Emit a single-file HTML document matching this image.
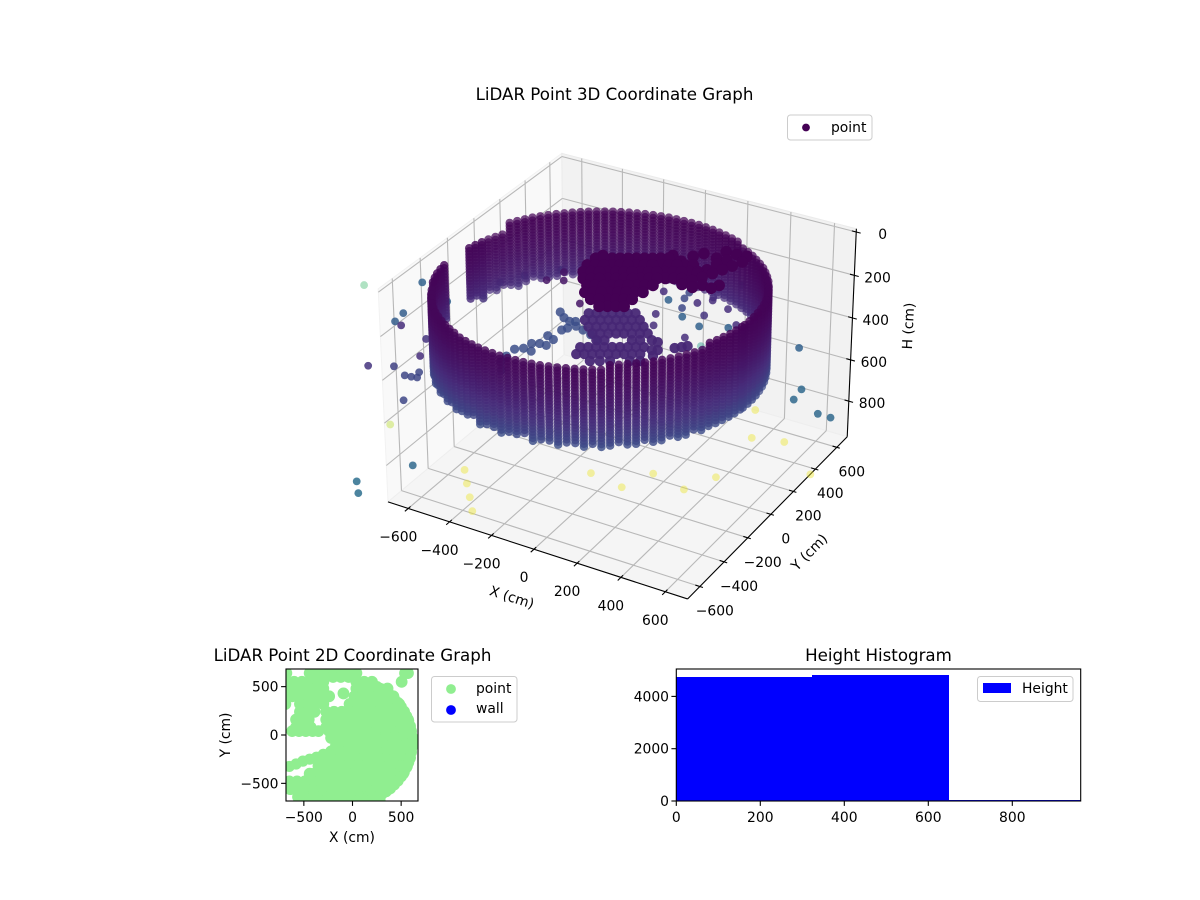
<!DOCTYPE html>
<html lang="en">
<head>
<meta charset="utf-8">
<title>LiDAR Point Graphs</title>
<style>
html,body{margin:0;padding:0;background:#fff;}
svg{display:block;}
text{font-family:"DejaVu Sans","Liberation Sans",sans-serif;font-size:13.89px;fill:#000;}
.title{font-size:16.67px;}
</style>
</head>
<body>
<svg id="figure" xmlns="http://www.w3.org/2000/svg" width="1200" height="900" viewBox="0 0 1200 900">
  <rect x="0" y="0" width="1200" height="900" fill="#ffffff"/>
  <defs>
    <clipPath id="clip2d"><rect x="286" y="669" width="132" height="132"/></clipPath>
  </defs>
  <g id="panel3d"></g>
  <g id="panel2d"></g>
  <g id="panelHist"></g>
</svg>
<script>
// ---------- 3D chart data ----------
const xTicks3d = [-600, -400, -200, 0, 200, 400, 600];
const yTicks3d = [-600, -400, -200, 0, 200, 400, 600];
const hTicks3d = [0, 200, 400, 600, 800];

// Wall columns, polar around the wall centre: bearing (deg), range (cm), top and bottom height (cm)
const wallCentreX = -93;
const wallCentreY = -15;
const wallBearing = [0,3.2,6.4,9.6,12.8,16,19.2,22.4,25.6,28.8,32,35.2,38.4,41.6,44.8,48,51.2,54.4,57.6,60.8,64,67.2,70.4,73.6,76.8,80,83.2,86.4,89.6,92.8,96,99.2,102.4,105.6,108.8,112,115.2,118.4,121.6,124.8,128,131.2,134.4,137.6,140.8,144,147.2,150.4,153.6,156.8,160,163.2,166.4,169.6,172.8,176,192,195.2,198.4,201.6,204.8,208,211.2,214.4,217.6,220.8,224,227.2,230.4,233.6,236.8,240,243.2,246.4,249.6,252.8,256,259.2,262.4,265.6,268.8,272,275.2,278.4,281.6,284.8,288,291.2,294.4,297.6,300.8,304,307.2,310.4,313.6,316.8,320,323.2,326.4,329.6,332.8,336,339.2,342.4,345.6,348.8,352,355.2,358.4];
const wallRange = [660,663,666,669,672,675,677,678,679,680,680,679,678,677,674,671,669,666,662,659,655,651,647,644,640,637,633,629,626,624,621,619,616,614,613,612,612,611,611,612,612,613,614,616,619,621,624,626,629,633,637,640,644,647,651,655,671,674,677,678,679,680,680,679,678,677,675,672,669,666,663,660,656,652,648,645,641,637,634,630,627,625,622,620,617,615,613,612,612,611,611,612,612,612,614,616,619,620,623,626,628,632,636,639,643,646,651,654,658];
const wallTop = [125,125,125,125,125,125,125,125,125,125,120,120,120,120,120,120,120,120,120,105,105,105,105,105,105,105,105,105,105,105,105,105,105,105,105,105,105,105,105,105,105,105,105,105,105,105,105,105,105,105,150,150,150,150,150,150,145,145,145,145,145,160,160,160,160,160,160,160,160,160,160,160,165,165,165,165,165,165,165,165,165,165,165,165,165,165,165,165,165,165,165,145,145,145,145,145,145,145,145,145,145,145,145,125,125,125,125,125,125];
const wallBottom = [510,510,505,510,510,505,510,510,505,510,400,400,400,400,400,400,400,400,400,400,400,400,400,400,400,400,400,400,400,400,400,400,400,400,400,395,400,405,400,390,400,410,395,400,410,400,395,410,420,405,400,415,400,420,400,400,405,400,400,410,400,510,505,510,500,510,505,515,505,510,500,515,505,510,500,515,505,510,515,505,510,500,515,510,505,515,510,505,515,510,515,510,505,515,510,505,515,510,505,510,515,505,510,505,510,505,510,505,510];
const wallStep = 14;

// Dark ceiling mass at the centre of the room
const ceilingH = 10;
const ceilingX = [-114,-85,-57,-29,-1,27,56,84,112,140,-101,-114,-86,-57,-29,-1,27,55,84,112,140,168,197,225,253,-99,-71,-43,-14,14,42,70,99,127,155,183,212,240,268,296,-70,-42,-14,15,43,71,99,128,156,184,212,241,269,-28,0,29,57,85,113,141,170,198,-6,22,50,79,107,135,163,192,43,71,100,128,156,184,100,128,157,185,312,334,354,373,392,411,404,361,350,330,320,301,293,340,367,408,424,143,195,217,243,306,313];
const ceilingY = [-12,4,21,37,53,70,86,102,119,135,23,-78,-62,-46,-29,-13,3,20,36,52,69,85,101,118,134,-135,-119,-103,-86,-70,-54,-38,-21,-5,11,28,44,60,77,93,-184,-168,-152,-135,-119,-103,-87,-70,-54,-38,-21,-5,11,-226,-210,-194,-177,-161,-145,-128,-112,-96,-279,-263,-247,-230,-214,-198,-181,-165,-317,-301,-284,-268,-252,-236,-350,-333,-317,-301,17,59,108,156,204,254,306,300,237,188,125,77,-32,-32,2,-2,35,164,138,198,241,231,300];

// Mid-height cluster inside the room
const clusterH = 450;
const clusterShade = 0.11;
const clusterX = [-312,-284,-255,-227,-199,-171,-143,-297,-269,-241,-212,-184,-156,-128,-99,-255,-227,-198,-170,-142,-114,-85,-57,-212,-184,-155,-127,-99,-71,-42,-14,-169,-140,-42,-13,-197,-169,-141,-112,-84,-56,-28,0,29,-182,-154,-126,-98,-69,-41,-13,15,44,-105,-70,-34,36,72,29,58,69,90,97,142,163,180];
const clusterY = [265,281,297,314,330,346,363,208,224,240,257,273,289,305,322,166,182,198,215,231,247,264,280,125,141,158,174,190,206,223,239,84,100,157,174,1,18,34,50,67,83,99,116,132,-56,-39,-23,-7,10,26,42,58,75,-77,-57,-36,4,25,198,196,127,139,87,188,209,229];

// Bluish arcs reaching toward the wall
const arcH = 520;
const arcX = [-487,-448,-411,-366,-324,-276,-226,-486,-487,-459,-451,-422,-427,-390,-402,-389,-389,-419,-390,-480,-443];
const arcY = [323,289,273,251,237,219,191,-110,-44,-19,32,49,122,106,193,219,285,-24,49,-163,-217];

// Isolated returns
const strayX = [-1662,-1204,-1107,-1097,-880,-838,-792,-735,-706,-698,-682,-673,-756,-1030,-1016,-446,-420,-383,-740,-770,-827,-260,-224,-565,-511,-423,-629,-977,-539,-474,-407,-342,-73,92,152,321,390,372,506,717,278,632,642,778,836,480,13,-87,-198,84,119,129,220,-74,137,-20,20,29,142,313,181,-6,-40,-72,-79];
const strayY = [554,348,54,-24,-292,-597,-482,-490,-486,-440,-479,-465,-296,230,257,150,246,183,749,494,388,132,46,-1093,-1161,-910,-658,-264,-368,-452,-535,-618,-128,-159,-3,-46,102,452,491,317,662,380,291,239,238,655,1019,504,746,486,561,537,503,645,449,317,228,607,658,401,203,690,580,659,714];
const strayH = [817,583,568,568,397,424,471,493,493,493,493,397,424,583,583,275,275,275,583,500,500,275,275,619,619,600,493,917,950,950,950,950,950,950,950,950,950,950,950,950,950,600,600,600,600,583,583,397,583,397,397,397,397,583,424,397,397,583,583,397,397,730,500,500,500];

// ---------- 2D chart data ----------
const ticks2d = [-500, 0, 500];
const scanY = [640,600,550,480,430,400,320,240,160,80,40,-30,-110,-170,-240,-320,-400,-480,-560,-640,-680];
const scanX = [
 [-680,-440,-360,-280,-200,-120,-40,40,540,570],
 [-280,-200,-120,-40],
 [-680,-600,-520,-440,-360,-300,40,120,200,505],
 [-680,-600,-520,-440,-360,-300,40,120,200,280,360],
 [-93],
 [-680,-620,-560,-480,-400,-320,-240,20,100,180,260,340,420],
 [-690,-540,-460,-380,-300,-30,50,130,210,290,370,450,480],
 [-540,-460,-390,-270,-190,-110,-30,50,130,210,290,370,450,530],
 [-580,-530,-450,-270,-190,-110,-30,50,130,210,290,370,450,530,570],
 [-580,-500,-430,-270,-190,-110,-30,50,130,210,290,370,450,530,590],
 [-620,-550,-480,-410,-350,-240,-160,-80,0,80,160,240,320,400,480,560,600],
 [-220,-140,-60,20,100,180,260,340,420,500,580,610],
 [-170,-90,-10,70,150,230,310,390,470,550,610],
 [-220,-140,-60,20,100,180,260,340,420,500,580,600],
 [-290,-210,-130,-50,30,110,190,270,350,430,510,590],
 [-350,-270,-190,-110,-30,50,130,210,290,370,450,530,560],
 [-440,-390,-310,-230,-150,-70,10,90,170,250,330,410,490,520],
 [-650,-570,-490,-410,-330,-250,-170,-90,-10,70,150,230,310,390,450],
 [-640,-560,-480,-400,-320,-240,-160,-80,0,80,160,240,320,370],
 [-560,-480,-400,-320,-240,-160,-80,0,80,160,240,270],
 [-500,-420,-340,-260,-180,-100,-20,60,140,220,280]
];
const bandX = [-650,-580,-510,-440,-370,-300];
const bandY = [-325,-300,-270,-250,-230,-200];
const rimX = [200,251,300,346,390,430,468,501,531,556,577,594,605,613,615,613,605,594,577,556,531,501,468,430,390,346,300,251,200];
const rimY = [522,501,476,446,413,375,335,291,245,196,145,93,39,-15,-70,-125,-179,-233,-285,-336,-385,-431,-475,-515,-553,-586,-616,-641,-662];

// ---------- Histogram data ----------
const histEdges = [0, 323, 649, 963];
const histCounts = [4750, 4827, 45];
const histXTicks = [0, 200, 400, 600, 800];
const histYTicks = [0, 2000, 4000];

// ---------- helpers ----------
const NS = 'http://www.w3.org/2000/svg';
function mk(parent, tag, attrs, txt) {
  const el = document.createElementNS(NS, tag);
  for (const k in attrs) el.setAttribute(k, attrs[k]);
  if (txt !== undefined) el.textContent = txt;
  parent.appendChild(el);
  return el;
}
function fmt(v) { return v < 0 ? '\u2212' + Math.abs(v) : String(v); }
const viridisStops = [[68,1,84],[71,44,122],[59,81,139],[44,113,142],[33,144,141],[39,173,129],[92,200,99],[170,220,50],[253,231,37]];
function viridis(v) {
  const t = Math.max(0, Math.min(1, v)) * (viridisStops.length - 1);
  const i = Math.min(viridisStops.length - 2, Math.floor(t));
  const f = t - i;
  const a = viridisStops[i], b = viridisStops[i + 1];
  return 'rgb(' + [0,1,2].map(function (c) { return Math.round(a[c] + (b[c] - a[c]) * f); }).join(',') + ')';
}

// ---------- 3D projection (elev 30, azim -60) ----------
const boxMin = -699, boxMax = 699, hTop = -15, hBot = 975;
const unit = (boxMax - boxMin) / 1.1429;
const scale3d = 3000, originX = 621.7, originY = 365.6, zHalf = 0.405;
function project(x, y, h) {
  const qx = x / unit, qy = y / unit;
  const qz = zHalf - (h - hTop) / (hBot - hTop) * 2 * zHalf;
  const u = 0.866 * qx + 0.5 * qy;
  const v = -0.25 * qx + 0.433 * qy + 0.866 * qz;
  const n = 0.433 * qx - 0.75 * qy + 0.5 * qz;
  const den = 10 - n;
  return { x: originX + scale3d * u / den, y: originY - scale3d * v / den, d: n };
}
function colorValue(h) { return Math.pow(Math.max(h, 0) / 960, 2.3); }

const p3 = document.getElementById('panel3d');

function polyPts(list) {
  return list.map(function (c) { const p = project(c[0], c[1], c[2]); return p.x.toFixed(2) + ',' + p.y.toFixed(2); }).join(' ');
}
const leftPane = mk(p3, 'polygon', { points: polyPts([[boxMin,boxMin,hBot],[boxMin,boxMax,hBot],[boxMin,boxMax,hTop],[boxMin,boxMin,hTop]]), fill: '#f9f9f9', stroke: '#f2f2f2', 'stroke-width': 1 });


const backPane = mk(p3, 'polygon', { points: polyPts([[boxMin,boxMax,hBot],[boxMax,boxMax,hBot],[boxMax,boxMax,hTop],[boxMin,boxMax,hTop]]), fill: '#f2f2f2', stroke: '#ebebeb', 'stroke-width': 1 });


const floorPane = mk(p3, 'polygon', { points: polyPts([[boxMin,boxMin,hBot],[boxMax,boxMin,hBot],[boxMax,boxMax,hBot],[boxMin,boxMax,hBot]]), fill: '#f5f5f5', stroke: '#eeeeee', 'stroke-width': 1 });



function line3d(a, b, stroke, width) {
  const pa = project(a[0], a[1], a[2]), pb = project(b[0], b[1], b[2]);
  return mk(p3, 'line', { x1: pa.x.toFixed(2), y1: pa.y.toFixed(2), x2: pb.x.toFixed(2), y2: pb.y.toFixed(2), stroke: stroke, 'stroke-width': width });
}
const gridColor = '#b8b8b8';
xTicks3d.forEach(function (t) {
  const g1 = line3d([t, boxMin, hBot], [t, boxMax, hBot], gridColor, 1.1);
  
  
  const g2 = line3d([t, boxMax, hBot], [t, boxMax, hTop], gridColor, 1.1);
  
  
});
yTicks3d.forEach(function (t) {
  const g1 = line3d([boxMin, t, hBot], [boxMax, t, hBot], gridColor, 1.1);
  
  
  const g2 = line3d([boxMin, t, hBot], [boxMin, t, hTop], gridColor, 1.1);
  
  
});
hTicks3d.forEach(function (t) {
  const g1 = line3d([boxMin, boxMin, t], [boxMin, boxMax, t], gridColor, 1.1);
  
  
  const g2 = line3d([boxMin, boxMax, t], [boxMax, boxMax, t], gridColor, 1.1);
  
  
});

const axisX = line3d([boxMin, boxMin, hBot], [boxMax, boxMin, hBot], '#000', 1.1);


const axisY = line3d([boxMax, boxMin, hBot], [boxMax, boxMax, hBot], '#000', 1.1);


const axisH = line3d([boxMax, boxMax, hBot], [boxMax, boxMax, hTop], '#000', 1.1);



xTicks3d.forEach(function (t) {
  const tk = line3d([t, boxMin + 17, hBot], [t, boxMin - 25, hBot], '#000', 1.1);
  
  
  const p = project(t, boxMin, hBot);
  const lb = mk(p3, 'text', { x: (p.x - 10).toFixed(1), y: (p.y + 33).toFixed(1), 'text-anchor': 'middle' }, fmt(t));
  
  
});
yTicks3d.forEach(function (t) {
  const tk = line3d([boxMax - 20, t, hBot], [boxMax + 14, t, hBot], '#000', 1.1);
  
  
  const p = project(boxMax, t, hBot);
  const lb = mk(p3, 'text', { x: (p.x + 15).toFixed(1), y: (p.y + 29).toFixed(1), 'text-anchor': 'middle' }, fmt(t));
  
  
});
hTicks3d.forEach(function (t) {
  const tk = line3d([boxMax - 20, boxMax, t], [boxMax + 20, boxMax, t], '#000', 1.1);
  
  
  const p = project(boxMax, boxMax, t);
  const lb = mk(p3, 'text', { x: (p.x + (t === 0 ? 22 : 10)).toFixed(1), y: (p.y + 7).toFixed(1), 'text-anchor': 'start' }, fmt(t));
  
  
});

const xTitle3d = mk(p3, 'text', { x: 0, y: 5, 'text-anchor': 'middle', transform: 'translate(512,597) rotate(17.9)' }, 'X (cm)');


const yTitle3d = mk(p3, 'text', { x: 0, y: 5, 'text-anchor': 'middle', transform: 'translate(809,552) rotate(-45.5)' }, 'Y (cm)');


const hTitle3d = mk(p3, 'text', { x: 0, y: 5, 'text-anchor': 'middle', transform: 'translate(908,326) rotate(-87.3)' }, 'H (cm)');


const title3d = mk(p3, 'text', { x: 614.5, y: 100, 'text-anchor': 'middle', class: 'title' }, 'LiDAR Point 3D Coordinate Graph');



// Collect every scatter point, then paint back to front
const scatter = [];
wallBearing.forEach(function (b, i) {
  const rad = b * Math.PI / 180;
  const wx = wallCentreX + wallRange[i] * Math.cos(rad);
  const wy = wallCentreY + wallRange[i] * Math.sin(rad);
  for (let h = wallTop[i]; h <= wallBottom[i]; h += wallStep) {
    const back = wy > wallCentreY + 120;
    scatter.push({ x: wx, y: wy, h: h, v: colorValue(h), a: back ? 0.72 : 0.82, r: 4.2 });
  }
});
ceilingX.forEach(function (v, i) { scatter.push({ x: v, y: ceilingY[i], h: ceilingH, v: colorValue(ceilingH), a: 1, r: 5.8 }); });
clusterX.forEach(function (v, i) { scatter.push({ x: v, y: clusterY[i], h: clusterH, v: clusterShade, a: 0.95, r: 5.2 }); });
arcX.forEach(function (v, i) { scatter.push({ x: v, y: arcY[i], h: arcH, v: colorValue(arcH), a: 0.85, r: 4.6 }); });
strayX.forEach(function (v, i) { scatter.push({ x: v, y: strayY[i], h: strayH[i], v: colorValue(strayH[i]), a: strayH[i] > 700 ? 0.42 : 0.85, r: 3.9 }); });
scatter.forEach(function (s) { s.p = project(s.x, s.y, s.h); });
scatter.sort(function (a, b) { return a.p.d - b.p.d; });
const scatterGroup = mk(p3, 'g', {});


scatter.forEach(function (s) {
  const c = mk(scatterGroup, 'circle', { cx: s.p.x.toFixed(2), cy: s.p.y.toFixed(2), r: s.r, fill: viridis(s.v), 'fill-opacity': s.a });
  
  
});

const legend3d = mk(p3, 'g', {});


const legend3dBox = mk(legend3d, 'rect', { x: 787.5, y: 115, width: 84.5, height: 25, rx: 3, fill: '#fff', 'fill-opacity': 0.8, stroke: '#cccccc', 'stroke-width': 1 });


const legend3dDot = mk(legend3d, 'circle', { cx: 806, cy: 127.5, r: 3.9, fill: '#440154' });


const legend3dText = mk(legend3d, 'text', { x: 831, y: 132 }, 'point');



// ---------- 2D chart ----------
const p2 = document.getElementById('panel2d');
const ax2 = { l: 286, r: 418, t: 669, b: 801 };
function sx2(v) { return 352.5 + 0.0973 * v; }
function sy2(v) { return 735 - 0.0967 * v; }
const cloud2d = mk(p2, 'g', { 'clip-path': 'url(#clip2d)' });


scanY.forEach(function (y, i) {
  scanX[i].forEach(function (x) {
    const c = mk(cloud2d, 'circle', { cx: sx2(x).toFixed(2), cy: sy2(y).toFixed(2), r: 5.9, fill: '#90ee90' });
    
    
  });
});
bandX.forEach(function (x, i) {
  const c = mk(cloud2d, 'circle', { cx: sx2(x).toFixed(2), cy: sy2(bandY[i]).toFixed(2), r: 5.6, fill: '#90ee90' });
  
  
});
rimX.forEach(function (x, i) {
  const c = mk(cloud2d, 'circle', { cx: sx2(x).toFixed(2), cy: sy2(rimY[i]).toFixed(2), r: 5.6, fill: '#90ee90' });
  
  
});
const frame2 = mk(p2, 'rect', { x: ax2.l, y: ax2.t, width: ax2.r - ax2.l, height: ax2.b - ax2.t, fill: 'none', stroke: '#000', 'stroke-width': 1.1 });


ticks2d.forEach(function (t) {
  const tx = mk(p2, 'line', { x1: sx2(t), y1: ax2.b, x2: sx2(t), y2: ax2.b + 4.9, stroke: '#000', 'stroke-width': 1.1 });
  
  
  const lx = mk(p2, 'text', { x: sx2(t), y: 822, 'text-anchor': 'middle' }, fmt(t));
  
  
  const ty = mk(p2, 'line', { x1: ax2.l, y1: sy2(t), x2: ax2.l - 4.9, y2: sy2(t), stroke: '#000', 'stroke-width': 1.1 });
  
  
  const ly = mk(p2, 'text', { x: 278.5, y: sy2(t) + 5, 'text-anchor': 'end' }, fmt(t));
  
  
});
const title2 = mk(p2, 'text', { x: 352.5, y: 661, 'text-anchor': 'middle', class: 'title' }, 'LiDAR Point 2D Coordinate Graph');


const xTitle2 = mk(p2, 'text', { x: 352, y: 842, 'text-anchor': 'middle' }, 'X (cm)');


const yTitle2 = mk(p2, 'text', { x: 0, y: 0, 'text-anchor': 'middle', transform: 'translate(230,735) rotate(-90)' }, 'Y (cm)');


const legend2 = mk(p2, 'g', {});


const legend2Box = mk(legend2, 'rect', { x: 431.5, y: 676.5, width: 85.5, height: 45.5, rx: 3, fill: '#fff', 'fill-opacity': 0.8, stroke: '#cccccc', 'stroke-width': 1 });


const legend2DotA = mk(legend2, 'circle', { cx: 451, cy: 689, r: 4.9, fill: '#90ee90' });


const legend2TextA = mk(legend2, 'text', { x: 476, y: 693 }, 'point');


const legend2DotB = mk(legend2, 'circle', { cx: 451, cy: 710, r: 4.9, fill: '#0000ff' });


const legend2TextB = mk(legend2, 'text', { x: 476, y: 713 }, 'wall');



// ---------- Histogram ----------
const ph = document.getElementById('panelHist');
const axH = { l: 676.3, r: 1080.7, t: 669, b: 801 };
function sxH(v) { return axH.l + 0.42 * v; }
function syH(v) { return axH.b - 0.02615 * v; }
histCounts.forEach(function (c, i) {
  const bar = mk(ph, 'rect', { x: sxH(histEdges[i]).toFixed(2), y: syH(c).toFixed(2), width: (sxH(histEdges[i + 1]) - sxH(histEdges[i])).toFixed(2), height: (axH.b - syH(c)).toFixed(2), fill: '#0000ff', 'shape-rendering': 'crispEdges' });
  
  
});
const frameH = mk(ph, 'rect', { x: axH.l, y: axH.t, width: axH.r - axH.l, height: axH.b - axH.t, fill: 'none', stroke: '#000', 'stroke-width': 1.1 });


histXTicks.forEach(function (t) {
  const tk = mk(ph, 'line', { x1: sxH(t), y1: axH.b, x2: sxH(t), y2: axH.b + 4.9, stroke: '#000', 'stroke-width': 1.1 });
  
  
  const lb = mk(ph, 'text', { x: sxH(t), y: 822, 'text-anchor': 'middle' }, fmt(t));
  
  
});
histYTicks.forEach(function (t) {
  const tk = mk(ph, 'line', { x1: axH.l, y1: syH(t), x2: axH.l - 4.9, y2: syH(t), stroke: '#000', 'stroke-width': 1.1 });
  
  
  const lb = mk(ph, 'text', { x: 669, y: syH(t) + 5, 'text-anchor': 'end' }, fmt(t));
  
  
});
const titleH = mk(ph, 'text', { x: 878.5, y: 661, 'text-anchor': 'middle', class: 'title' }, 'Height Histogram');


const legendH = mk(ph, 'g', {});


const legendHBox = mk(legendH, 'rect', { x: 977.5, y: 676.5, width: 95.5, height: 25, rx: 3, fill: '#fff', 'fill-opacity': 0.8, stroke: '#cccccc', 'stroke-width': 1 });


const legendHPatch = mk(legendH, 'rect', { x: 983, y: 683, width: 28, height: 10, fill: '#0000ff' });


const legendHText = mk(legendH, 'text', { x: 1022, y: 693 }, 'Height');


</script>
</body>
</html>
